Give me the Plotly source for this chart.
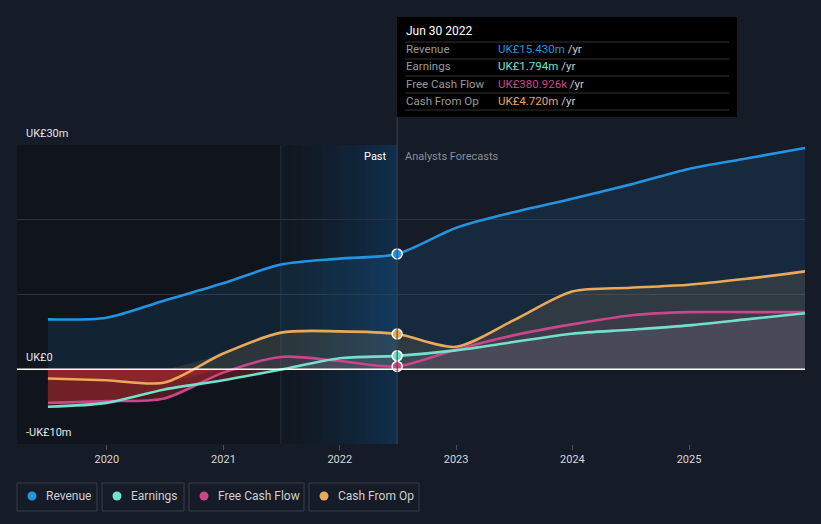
import numpy as np
import pandas as pd
import plotly.graph_objects as go

# ---------------- data (UK£ m) ----------------
dates = ["2019-06-30", "2019-12-31", "2020-06-30", "2020-12-31", "2021-06-30",
         "2021-12-31", "2022-06-30", "2022-12-31", "2023-06-30", "2023-12-31",
         "2024-06-30", "2024-12-31", "2025-06-30", "2025-12-31"]
revenue = [6.67, 6.9, 9.2, 11.5, 14.0, 14.8, 15.43, 18.9, 21.0, 22.8, 24.7, 26.8, 28.2, 29.6]
earnings = [-5.02, -4.5, -2.7, -1.47, -0.05, 1.47, 1.794, 2.53, 3.64, 4.76, 5.29, 5.87, 6.67, 7.5]
fcf = [-4.49, -4.27, -3.9, -0.45, 1.65, 1.1, 0.381, 2.62, 4.53, 6.0, 7.2, 7.64, 7.64, 7.64]
cfo = [-1.24, -1.47, -1.78, 2.1, 4.9, 5.07, 4.72, 3.0, 6.53, 10.4, 10.9, 11.3, 12.1, 13.1]

names = ["Revenue", "Earnings", "Free Cash Flow", "Cash From Op"]
colors = ["#2394df", "#72e0cd", "#c8478a", "#e9a95a"]
tooltip_date = "Jun 30 2022"
tooltip_vals = ["UK£15.430m", "UK£1.794m", "UK£380.926k", "UK£4.720m"]
now_date = "2022-06-30"
band_start = "2021-06-30"
x_range = ["2019-03-25", "2025-12-31"]
ylabels = [(30, "UK£30m"), (0, "UK£0"), (-10, "-UK£10m")]

BG = "#151b27"
fig = go.Figure()

series = [revenue, cfo, fcf, earnings]
scol = ["#2394df", "#e9a95a", "#c8478a", "#72e0cd"]
pos_fill = ["rgba(35,148,223,0.12)", "rgba(225,175,110,0.13)",
            "rgba(200,71,138,0.08)", "rgba(170,185,200,0.12)"]
for vals, fc in zip(series, pos_fill):
    v = np.array(vals)
    fig.add_trace(go.Scatter(x=dates, y=np.maximum(v, 0), mode="lines",
                             line=dict(width=0, shape="spline", smoothing=0.8),
                             fill="tozeroy", fillcolor=fc, hoverinfo="skip", showlegend=False))
    if v.min() < 0:
        fig.add_trace(go.Scatter(x=dates, y=np.minimum(v, 0), mode="lines",
                                 line=dict(width=0, shape="spline", smoothing=0.8),
                                 fill="tozeroy", fillcolor="rgba(195,45,50,0.33)",
                                 hoverinfo="skip", showlegend=False))

for vals, c in zip(series, scol):
    fig.add_trace(go.Scatter(x=dates, y=vals, mode="lines",
                             line=dict(width=2.6, color=c, shape="spline", smoothing=0.8),
                             hoverinfo="skip", showlegend=False))

# markers at "now"
idx = dates.index(now_date)
for vals, c in zip(series, scol):
    fig.add_trace(go.Scatter(x=[now_date], y=[vals[idx]], mode="markers",
                             marker=dict(size=10, color=c, line=dict(width=1.5, color="white")),
                             hoverinfo="skip", showlegend=False))

# plot geometry
L, R, T, B = 17, 16, 145, 80
W, H = 821, 524
pw, ph = W - L - R, H - T - B
def px(x):
    return (x - L) / pw
def py(y):
    return (H - B - y) / ph

shapes = [
    dict(type="rect", xref="x", yref="paper", x0=x_range[0], x1=band_start, y0=0, y1=1,
         fillcolor="#10141c", line=dict(width=0), layer="below"),
]
# horizontal gradient for the last-year band (overlapping strips, no seams)
edges = pd.date_range(band_start, now_date, periods=41)
c0, c1 = np.array([18, 24, 33]), np.array([16, 47, 76])
for i in range(40):
    t = i / 39
    c = (c0 + (c1 - c0) * t ** 1.3).astype(int)
    shapes.append(dict(type="rect", xref="x", yref="paper", x0=edges[i], x1=now_date,
                       y0=0, y1=1, fillcolor=f"rgb({c[0]},{c[1]},{c[2]})",
                       line=dict(width=0), layer="below"))
shapes += [
    dict(type="line", xref="x", yref="paper", x0=band_start, x1=band_start, y0=0, y1=1,
         line=dict(color="#232d3b", width=1), layer="below"),
    dict(type="line", xref="paper", yref="y", x0=0, x1=1, y0=0, y1=0,
         line=dict(color="#ffffff", width=1.5), layer="above"),
    dict(type="line", xref="x", yref="paper", x0=now_date, x1=now_date, y0=0, y1=py(117),
         line=dict(color="#3a4352", width=1), layer="above"),
    dict(type="rect", xref="paper", yref="paper", x0=px(397), x1=px(737), y0=py(117), y1=py(17),
         fillcolor="#000000", line=dict(width=0), layer="above"),
]
for sy in [42, 59, 76, 93, 110]:
    shapes.append(dict(type="line", xref="paper", yref="paper", x0=px(405), x1=px(729),
                       y0=py(sy), y1=py(sy), line=dict(color="#333333", width=1), layer="above"))

ann = []
for yv, t in ylabels:
    ann.append(dict(xref="paper", yref="y", x=px(24), y=yv, text=t, showarrow=False,
                    xanchor="left", yanchor="bottom", yshift=3,
                    font=dict(color="#e6e6e6", size=11)))
ann.append(dict(xref="x", yref="y", x=now_date, y=30, text="Past", showarrow=False,
                xanchor="right", yanchor="top", xshift=-8, yshift=-3,
                font=dict(color="#ffffff", size=11)))
ann.append(dict(xref="x", yref="y", x=now_date, y=30, text="Analysts Forecasts", showarrow=False,
                xanchor="left", yanchor="top", xshift=6, yshift=-3,
                font=dict(color="#8a8f98", size=11)))
ann.append(dict(xref="paper", yref="paper", x=px(404), y=py(31), text=tooltip_date,
                showarrow=False, xanchor="left", yanchor="middle",
                font=dict(color="#ffffff", size=12)))
row_y = [49, 66, 84, 101]
for i in range(4):
    ann.append(dict(xref="paper", yref="paper", x=px(404), y=py(row_y[i]), text=names[i],
                    showarrow=False, xanchor="left", yanchor="middle",
                    font=dict(color="#9a9a9a", size=11.5)))
    ann.append(dict(xref="paper", yref="paper", x=px(496), y=py(row_y[i]),
                    text=f"<span style='color:{colors[i]}'>{tooltip_vals[i]}</span> /yr",
                    showarrow=False, xanchor="left", yanchor="middle",
                    font=dict(color="#cccccc", size=11.5)))

# custom legend boxes
boxes = [(17, 97), (102, 184), (189, 304), (309, 419)]
for i, (x0, x1) in enumerate(boxes):
    shapes.append(dict(type="rect", xref="paper", yref="paper", x0=px(x0), x1=px(x1),
                       y0=py(511), y1=py(483), line=dict(color="#3b404b", width=1),
                       fillcolor="rgba(0,0,0,0)", layer="above"))
    shapes.append(dict(type="circle", xref="paper", yref="paper",
                       xsizemode="pixel", ysizemode="pixel",
                       xanchor=px(x0 + 15), yanchor=py(496),
                       x0=-4.5, x1=4.5, y0=-4.5, y1=4.5,
                       fillcolor=colors[i], line=dict(width=0), layer="above"))
    ann.append(dict(xref="paper", yref="paper", x=px(x0 + 27), y=py(496), text=names[i],
                    showarrow=False, xanchor="left", yanchor="middle",
                    font=dict(color="#d0d0d0", size=12)))

fig.update_layout(
    width=W, height=H, margin=dict(l=L, r=R, t=T, b=B),
    paper_bgcolor=BG, plot_bgcolor=BG,
    font=dict(family="Roboto, sans-serif", color="#d0d0d0"),
    shapes=shapes, annotations=ann, showlegend=False, hovermode=False,
    xaxis=dict(type="date", range=x_range, showgrid=False, zeroline=False,
               tick0="2020-01-01", dtick="M12", tickformat="%Y",
               ticks="outside", ticklen=5, tickcolor="#4a505b",
               tickfont=dict(color="#d8d8d8", size=11), showline=False),
    yaxis=dict(range=[-10, 30], dtick=10, showticklabels=False,
               gridcolor="#2c323d", gridwidth=1, zeroline=False, showline=False),
)

fig.write_html("out.html", config={"displayModeBar": False},
               post_script="document.body.style.margin='0px';"
                           "document.body.style.background='#151b27';")
